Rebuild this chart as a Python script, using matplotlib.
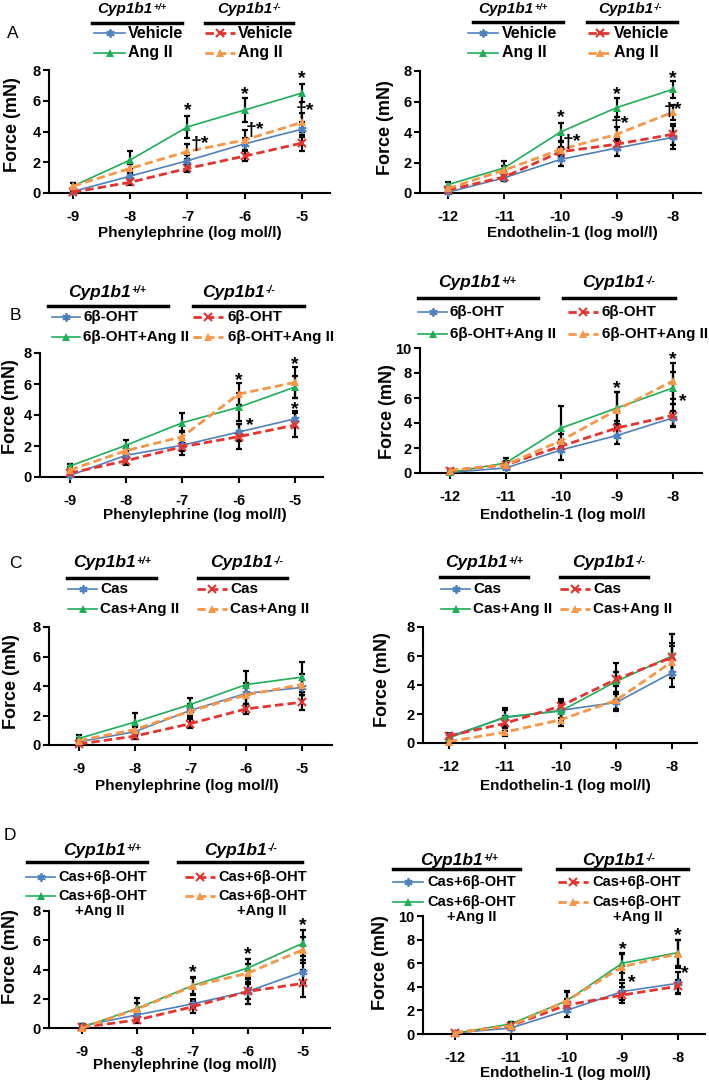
import matplotlib.pyplot as plt
from matplotlib.lines import Line2D
from matplotlib.text import Annotation

plt.rcParams['font.family'] = ['Liberation Sans', 'DejaVu Sans']

W, H = 709, 1081

# concentrations (log mol/l)
pe_x = [-9, -8, -7, -6, -5]
et_x = [-12, -11, -10, -9, -8]

# ---- panel A : vehicle / Ang II ----
a_pe_wt_veh = [0.1, 1.1, 2.1, 3.2, 4.15]
a_pe_wt_ang = [0.45, 2.15, 4.3, 5.4, 6.5]
a_pe_ko_veh = [0.05, 0.7, 1.6, 2.4, 3.25]
a_pe_ko_ang = [0.45, 1.6, 2.7, 3.45, 4.6]
a_pe_wt_veh_sem = [0.1, 0.25, 0.35, 0.4, 0.5]
a_pe_wt_ang_sem = [0.2, 0.6, 0.7, 0.75, 0.6]
a_pe_ko_veh_sem = [0.1, 0.2, 0.25, 0.35, 0.55]
a_pe_ko_ang_sem = [0.2, 0.3, 0.5, 0.65, 0.6]
a_pe_marks = [(-7, 5.65, '*'), (-6, 6.75, '*'), (-5, 7.75, '*'),
              (-6.79, 3.5, '†*'), (-5.82, 4.37, '†*'), (-4.95, 5.6, '†*')]

a_et_wt_veh = [0.05, 1.0, 2.2, 2.95, 3.65]
a_et_wt_ang = [0.55, 1.65, 4.0, 5.6, 6.8]
a_et_ko_veh = [0.2, 1.05, 2.7, 3.2, 3.85]
a_et_ko_ang = [0.3, 1.5, 2.85, 3.85, 5.3]
a_et_wt_veh_sem = [0.05, 0.2, 0.45, 0.5, 0.75]
a_et_wt_ang_sem = [0.2, 0.45, 0.6, 0.6, 0.55]
a_et_ko_veh_sem = [0.1, 0.2, 0.3, 0.4, 0.7]
a_et_ko_ang_sem = [0.1, 0.3, 0.5, 0.5, 0.5]
a_et_marks = [(-10, 5.25, '*'), (-9, 6.8, '*'), (-8, 7.8, '*'),
              (-9.8, 3.6, '†*'), (-8.94, 4.8, '†*'), (-8, 5.75, '†*')]

# ---- panel B : 6b-OHT ----
b_pe_wt_veh = [0.1, 1.4, 2.05, 2.9, 3.75]
b_pe_wt_ang = [0.7, 2.05, 3.5, 4.5, 5.8]
b_pe_ko_veh = [0.25, 1.05, 1.95, 2.6, 3.35]
b_pe_ko_ang = [0.45, 1.7, 2.6, 5.35, 6.1]
b_pe_wt_veh_sem = [0.1, 0.25, 0.35, 0.55, 0.5]
b_pe_wt_ang_sem = [0.15, 0.35, 0.6, 0.9, 0.7]
b_pe_ko_veh_sem = [0.1, 0.3, 0.5, 0.8, 0.8]
b_pe_ko_ang_sem = [0.2, 0.3, 0.4, 0.7, 1.0]
b_pe_marks = [(-6, 6.55, '*'), (-5.8, 3.6, '*'), (-5, 7.55, '*'), (-5, 4.65, '*')]

b_et_wt_veh = [0.05, 0.4, 1.85, 3.0, 4.4]
b_et_wt_ang = [0.05, 0.8, 3.6, 5.2, 6.8]
b_et_ko_veh = [0.2, 0.65, 2.15, 3.6, 4.6]
b_et_ko_ang = [0.2, 0.65, 2.6, 5.05, 7.35]
b_et_wt_veh_sem = [0.05, 0.1, 0.8, 0.7, 0.6]
b_et_wt_ang_sem = [0.05, 0.4, 1.8, 1.3, 1.25]
b_et_ko_veh_sem = [0.1, 0.3, 0.5, 0.6, 0.9]
b_et_ko_ang_sem = [0.1, 0.3, 0.5, 1.45, 1.45]
b_et_marks = [(-9, 7.15, '*'), (-8, 9.45, '*'), (-7.82, 6.1, '*')]

# ---- panel C : castration ----
c_pe_wt_veh = [0.22, 0.9, 2.35, 3.5, 3.9]
c_pe_wt_ang = [0.45, 1.55, 2.75, 4.1, 4.6]
c_pe_ko_veh = [0.07, 0.6, 1.45, 2.45, 2.9]
c_pe_ko_ang = [0.3, 1.05, 2.3, 3.4, 4.1]
c_pe_wt_veh_sem = [0.1, 0.3, 0.4, 0.7, 0.5]
c_pe_wt_ang_sem = [0.2, 0.65, 0.45, 0.9, 1.0]
c_pe_ko_veh_sem = [0.05, 0.2, 0.3, 0.35, 0.5]
c_pe_ko_ang_sem = [0.2, 0.3, 0.4, 0.6, 0.7]
c_pe_marks = []

c_et_wt_veh = [0.45, 1.75, 2.25, 2.8, 4.85]
c_et_wt_ang = [0.35, 1.8, 2.2, 4.25, 6.0]
c_et_ko_veh = [0.5, 1.35, 2.55, 4.4, 5.9]
c_et_ko_ang = [0.1, 0.75, 1.6, 2.95, 5.6]
c_et_wt_veh_sem = [0.2, 0.5, 0.5, 0.6, 1.0]
c_et_wt_ang_sem = [0.2, 0.6, 0.7, 1.25, 1.5]
c_et_ko_veh_sem = [0.2, 0.5, 0.5, 0.5, 1.0]
c_et_ko_ang_sem = [0.1, 0.3, 0.4, 0.6, 1.1]
c_et_marks = []

# ---- panel D : castration + 6b-OHT ----
d_pe_wt_veh = [0.15, 0.9, 1.65, 2.5, 3.85]
d_pe_wt_ang = [0.05, 1.35, 2.9, 4.1, 5.8]
d_pe_ko_veh = [0.05, 0.55, 1.45, 2.5, 3.05]
d_pe_ko_ang = [0.0, 1.3, 2.85, 3.75, 5.35]
d_pe_wt_veh_sem = [0.1, 0.3, 0.3, 0.85, 0.8]
d_pe_wt_ang_sem = [0.05, 0.7, 0.6, 0.65, 0.9]
d_pe_ko_veh_sem = [0.05, 0.2, 0.4, 0.5, 0.9]
d_pe_ko_ang_sem = [0.05, 0.4, 0.6, 0.6, 0.9]
d_pe_marks = [(-7, 4.1, '*'), (-6, 5.35, '*'), (-5, 7.35, '*')]

d_et_wt_veh = [0.1, 0.5, 2.0, 3.6, 4.3]
d_et_wt_ang = [0.05, 0.85, 2.8, 6.0, 6.9]
d_et_ko_veh = [0.1, 0.7, 2.45, 3.3, 4.05]
d_et_ko_ang = [0.1, 0.7, 2.8, 5.7, 6.8]
d_et_wt_veh_sem = [0.05, 0.15, 0.6, 0.7, 0.95]
d_et_wt_ang_sem = [0.05, 0.2, 0.85, 0.85, 1.1]
d_et_ko_veh_sem = [0.05, 0.2, 0.5, 0.7, 0.55]
d_et_ko_ang_sem = [0.05, 0.2, 0.8, 1.1, 1.2]
d_et_marks = [(-9, 7.6, '*'), (-8.83, 4.75, '*'), (-8, 8.75, '*'), (-7.88, 5.55, '*')]

BLUE = '#4f81bd'
GREEN = '#1fae57'
RED = '#e3342f'
ORANGE = '#f79646'
styles = [
    dict(color=BLUE, ls='-', lw=1.2, marker=(6, 2, 0), ms=6, mew=1.3),
    dict(color=GREEN, ls='-', lw=1.2, marker='^', ms=5.5, mew=0),
    dict(color=RED, ls=(0, (3, 1.5)), lw=2, marker='x', ms=5.5, mew=1.5),
    dict(color=ORANGE, ls=(0, (3, 1.5)), lw=2, marker='^', ms=5.5, mew=0),
]

fig = plt.figure(figsize=(W / 100, H / 100), dpi=100)


def fx(x):
    return x / W


def fy(y):
    return 1 - y / H


def panel(box, xlim, ymax, x, means, sems, marks, xlabel, xlab_pos, ylab_pos):
    x0, top, x1, bot = box
    ax = fig.add_axes([fx(x0), fy(bot), (x1 - x0) / W, (bot - top) / H])
    for m, s in zip(means, sems):
        ax.errorbar(x, m, yerr=s, fmt='none', ecolor='black', elinewidth=1.6,
                    capsize=2, capthick=1.6, zorder=2, clip_on=False)
    for m, st in zip(means, styles):
        ax.plot(x, m, zorder=3, clip_on=False, **st)
    for mx, my, txt in marks:
        ax.annotate(txt, (mx, my), xytext=(0, -3.5), textcoords='offset points',
                    ha='center', va='center', fontsize=14, fontweight='bold',
                    zorder=5, annotation_clip=False)
    ax.set_xlim(*xlim)
    ax.set_ylim(0, ymax)
    ax.set_xticks(x)
    ax.set_xticklabels([str(v) for v in x], fontweight='bold')
    ax.set_yticks(range(0, ymax + 1, 2))
    ax.set_yticklabels([str(v) for v in range(0, ymax + 1, 2)], fontweight='bold')
    for side in ['top', 'right']:
        ax.spines[side].set_visible(False)
    for side in ['left', 'bottom']:
        ax.spines[side].set_linewidth(1.5)
    ax.tick_params(axis='both', direction='out', length=4, width=1.5, labelsize=10.5)
    ax.tick_params(axis='x', pad=8)
    ax.tick_params(axis='y', pad=2)
    fig.text(fx(xlab_pos[0]), fy(xlab_pos[1]), xlabel, ha='center', va='center',
             fontsize=11, fontweight='bold')
    fig.text(fx(ylab_pos[0]), fy(ylab_pos[1]), 'Force (mN)', ha='center', va='center',
             fontsize=13, fontweight='bold', rotation=90)
    return ax


def legend(hdr_x, hdr_y, ul, ul_y, rows_y, samples, text_x, labels, fs_hdr, fs_txt,
           extra=None):
    for hx, sup in zip(hdr_x, ['+/+', '-/-']):
        t = fig.text(fx(hx), fy(hdr_y), 'Cyp1b1', ha='left', va='center',
                     fontsize=fs_hdr, fontweight='bold', style='italic')
        a = Annotation(sup, xy=(1, 0.95), xycoords=t, xytext=(0.5, 0),
                       textcoords='offset points', ha='left', va='top',
                       fontsize=fs_hdr * 0.6, fontweight='bold', style='italic')
        fig.add_artist(a)
    for (u0, u1) in ul:
        fig.add_artist(Line2D([fx(u0), fx(u1)], [fy(ul_y), fy(ul_y)], color='black',
                              lw=2.5, transform=fig.transFigure))
    k = 0
    for col in range(2):
        s0, s1 = samples[col]
        for row in range(2):
            st = dict(styles[k])
            yy = fy(rows_y[row])
            fig.add_artist(Line2D([fx(s0), fx((s0 + s1) / 2), fx(s1)], [yy, yy, yy],
                                  markevery=[1], transform=fig.transFigure, **st))
            fig.text(fx(text_x[col]), yy, labels[row], ha='left', va='center',
                     fontsize=fs_txt, fontweight='bold')
            k += 1
    if extra is not None:
        ey, ex = extra
        for xx in ex:
            fig.text(fx(xx), fy(ey), '+Ang II', ha='center', va='center',
                     fontsize=fs_txt, fontweight='bold')


def letter(x, y, s):
    fig.text(fx(x), fy(y), s, ha='center', va='center', fontsize=12.5)


PE = 'Phenylephrine (log mol/l)'
ET = 'Endothelin-1 (log mol/l)'

# A
panel((49, 70, 330, 193), (-9.42, -4.51), 8, pe_x,
      [a_pe_wt_veh, a_pe_wt_ang, a_pe_ko_veh, a_pe_ko_ang],
      [a_pe_wt_veh_sem, a_pe_wt_ang_sem, a_pe_ko_veh_sem, a_pe_ko_ang_sem],
      a_pe_marks, PE, (190, 233), (13, 125))
panel((420, 71, 701, 193), (-12.5, -7.5), 8, et_x,
      [a_et_wt_veh, a_et_wt_ang, a_et_ko_veh, a_et_ko_ang],
      [a_et_wt_veh_sem, a_et_wt_ang_sem, a_et_ko_veh_sem, a_et_ko_ang_sem],
      a_et_marks, ET, (572, 233), (385, 128))
legend([97, 217], 9, [(92, 182), (205, 293)], 23, [33, 53], [(94, 125), (205, 235)],
       [128, 238], ['Vehicle', 'Ang II'], 11, 11.5)
legend([478, 598], 9, [(473, 563), (587, 677)], 22, [33, 53], [(468, 498), (588, 612)],
       [502, 614], ['Vehicle', 'Ang II'], 11, 11.5)
letter(13, 33, 'A')

# B
panel((40, 353, 323, 477), (-9.53, -4.5), 8, pe_x,
      [b_pe_wt_veh, b_pe_wt_ang, b_pe_ko_veh, b_pe_ko_ang],
      [b_pe_wt_veh_sem, b_pe_wt_ang_sem, b_pe_ko_veh_sem, b_pe_ko_ang_sem],
      b_pe_marks, PE, (195, 515), (11, 407))
panel((420, 348, 702, 473), (-12.54, -7.47), 10, et_x,
      [b_et_wt_veh, b_et_wt_ang, b_et_ko_veh, b_et_ko_ang],
      [b_et_wt_veh_sem, b_et_wt_ang_sem, b_et_ko_veh_sem, b_et_ko_ang_sem],
      b_et_marks, 'Endothelin-1 (log mol/l', (563, 515), (387, 412))
legend([68, 202], 292, [(48, 168), (193, 304)], 306, [317, 337], [(52, 80), (193, 223)],
       [83, 228], ['6β-OHT', '6β-OHT+Ang II'], 12.5, 11)
legend([438, 582], 283, [(418, 538), (563, 675)], 298, [312, 334], [(418, 447), (568, 598)],
       [450, 602], ['6β-OHT', '6β-OHT+Ang II'], 12.5, 11)
letter(15, 315, 'B')

# C
panel((49, 627, 332, 745), (-9.54, -4.46), 8, pe_x,
      [c_pe_wt_veh, c_pe_wt_ang, c_pe_ko_veh, c_pe_ko_ang],
      [c_pe_wt_veh_sem, c_pe_wt_ang_sem, c_pe_ko_veh_sem, c_pe_ko_ang_sem],
      c_pe_marks, PE, (187, 786), (12, 682))
panel((423, 627, 697, 743), (-12.47, -7.55), 8, et_x,
      [c_et_wt_veh, c_et_wt_ang, c_et_ko_veh, c_et_ko_ang],
      [c_et_wt_veh_sem, c_et_wt_ang_sem, c_et_ko_veh_sem, c_et_ko_ang_sem],
      c_et_marks, ET, (565, 786), (382, 680))
legend([73, 210], 563, [(67, 156), (198, 287)], 578, [589, 609], [(68, 97), (197, 227)],
       [100, 230], ['Cas', 'Cas+Ang II'], 12.5, 11)
legend([445, 572], 563, [(440, 528), (560, 648)], 577, [589, 609], [(441, 470), (560, 590)],
       [473, 593], ['Cas', 'Cas+Ang II'], 12.5, 11)
letter(15, 563, 'C')

# D
panel((49, 911, 330, 1028), (-9.6, -4.51), 8, pe_x,
      [d_pe_wt_veh, d_pe_wt_ang, d_pe_ko_veh, d_pe_ko_ang],
      [d_pe_wt_veh_sem, d_pe_wt_ang_sem, d_pe_ko_veh_sem, d_pe_ko_ang_sem],
      d_pe_marks, PE, (185, 1065), (11, 957))
panel((423, 916, 705, 1034), (-12.57, -7.52), 10, et_x,
      [d_et_wt_veh, d_et_wt_ang, d_et_ko_veh, d_et_ko_ang],
      [d_et_wt_veh_sem, d_et_wt_ang_sem, d_et_ko_veh_sem, d_et_ko_ang_sem],
      d_et_marks, ET, (565, 1073), (380, 963))
legend([63, 204], 850, [(27, 147), (178, 302)], 862, [877, 896], [(26, 55), (185, 215)],
       [58, 218], ['Cas+6β-OHT', 'Cas+6β-OHT'], 12.5, 10.5, extra=(911, [100, 262]))
legend([420, 582], 860, [(393, 520), (557, 688)], 869, [882, 902], [(393, 423), (558, 588)],
       [427, 592], ['Cas+6β-OHT', 'Cas+6β-OHT'], 12.5, 10.5, extra=(917, [472, 638]))
letter(10, 835, 'D')

fig.savefig('out.png', dpi=100)
